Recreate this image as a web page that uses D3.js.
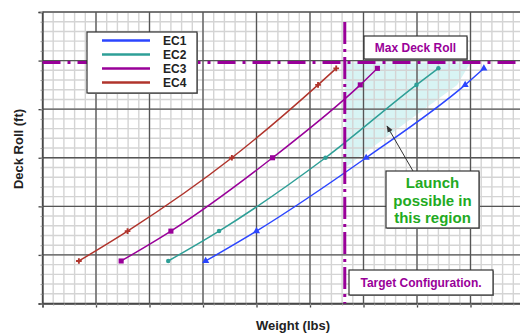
<!DOCTYPE html>
<html><head><meta charset="utf-8">
<script src="https://cdn.jsdelivr.net/npm/d3@7"></script>
<style>html,body{margin:0;padding:0;background:#fff;overflow:hidden}svg{display:block}</style>
</head><body>
<svg id="c" width="520" height="335"></svg>
<script>
// ---- data ----
const seriesNames = ["EC1","EC2","EC3","EC4"];
const deckRoll = [0.875, 1.49, 3.0, 4.5, 4.84];
const ec1Weight = [3.05, 4.00, 6.05, 7.90, 8.25];
const ec2Weight = [2.35, 3.30, 5.29, 6.99, 7.40];
const ec3Weight = [1.47, 2.40, 4.30, 5.94, 6.26];
const ec4Weight = [0.68, 1.59, 3.54, 5.15, 5.49];
const maxDeckRoll = 4.96;
const targetWeight = 5.65;
const regionWeight = [5.65, 8.0, 7.75, 5.9, 5.65];
const regionRoll   = [4.96, 4.96, 4.5, 3.0, 2.79];
const xMajorTicks = [0,1,2,3,4,5,6,7,8,9];
const yMajorTicks = [0,1,2,3,4,5,6];

const colors = ["#2b45ff","#2e9f97","#990099","#b0342c"];
const svg = d3.select("#c");
const x = d3.scaleLinear().domain([0,9]).range([42.5,524]);
const y = d3.scaleLinear().domain([0,6]).range([303.5,12]);

// shaded launch region
svg.append("path")
  .attr("d", d3.line().x(d=>x(d[0])).y(d=>y(d[1]))(regionWeight.map((w,i)=>[w,regionRoll[i]])) + "Z")
  .attr("fill","#d8f4f4");

// minor grid
const xMinor = d3.range(0,9.001,0.2), yMinor = d3.range(0,6.001,0.2);
const g = svg.append("g");
g.selectAll(".vm").data(xMinor).join("line")
  .attr("x1",d=>x(d)).attr("x2",d=>x(d)).attr("y1",y(6)).attr("y2",y(0))
  .attr("stroke","#d4d4d4").attr("stroke-width",1.4);
g.selectAll(".hm").data(yMinor).join("line")
  .attr("y1",d=>y(d)).attr("y2",d=>y(d)).attr("x1",x(0)).attr("x2",x(9))
  .attr("stroke","#d4d4d4").attr("stroke-width",1.4);
// major grid
g.selectAll(".vM").data(xMajorTicks).join("line")
  .attr("x1",d=>x(d)).attr("x2",d=>x(d)).attr("y1",y(6)).attr("y2",y(0))
  .attr("stroke","#555").attr("stroke-width",1.3);
g.selectAll(".hM").data(yMajorTicks).join("line")
  .attr("y1",d=>y(d)).attr("y2",d=>y(d)).attr("x1",x(0)).attr("x2",x(9))
  .attr("stroke","#555").attr("stroke-width",1.3);

// axes (ticks only, no labels)
svg.append("g").attr("transform",`translate(0,${y(0)})`)
  .call(d3.axisBottom(x).tickValues(xMajorTicks).tickSize(4).tickFormat(""))
  .call(a=>a.select(".domain").attr("stroke","#444").attr("stroke-width",1.3))
  .call(a=>a.selectAll(".tick line").attr("stroke","#444").attr("stroke-width",1.3));
svg.append("g").attr("transform",`translate(0,${y(0)})`)
  .call(d3.axisBottom(x).tickValues(xMinor).tickSize(2).tickFormat(""))
  .call(a=>a.select(".domain").remove())
  .call(a=>a.selectAll(".tick line").attr("stroke","#999"));
svg.append("g").attr("transform",`translate(${x(0)},0)`)
  .call(d3.axisLeft(y).tickValues(yMajorTicks).tickSize(4).tickFormat(""))
  .call(a=>a.select(".domain").attr("stroke","#444").attr("stroke-width",1.3))
  .call(a=>a.selectAll(".tick line").attr("stroke","#444").attr("stroke-width",1.3));
svg.append("g").attr("transform",`translate(${x(0)},0)`)
  .call(d3.axisLeft(y).tickValues(yMinor).tickSize(2).tickFormat(""))
  .call(a=>a.select(".domain").remove())
  .call(a=>a.selectAll(".tick line").attr("stroke","#999"));

// series
const allW = [ec1Weight, ec2Weight, ec3Weight, ec4Weight];
const line = d3.line().x(d=>x(d[0])).y(d=>y(d[1])).curve(d3.curveMonotoneX);
const symbols = [d3.symbolTriangle, d3.symbolCircle, d3.symbolSquare, d3.symbolCross];
const symSizes = [22, 16, 26, 18];
allW.forEach((ws,i)=>{
  const pts = ws.map((w,j)=>[w,deckRoll[j]]);
  svg.append("path").attr("d",line(pts)).attr("fill","none")
    .attr("stroke",colors[i]).attr("stroke-width",1.5);
  svg.append("g").selectAll("path").data(pts).join("path")
    .attr("transform",d=>`translate(${x(d[0])},${y(d[1])})`)
    .attr("d",d3.symbol().type(symbols[i]).size(symSizes[i]))
    .attr("fill",colors[i]);
});

// reference lines
const purple = "#990099";
svg.append("line").attr("x1",x(0)).attr("x2",520).attr("y1",y(maxDeckRoll)).attr("y2",y(maxDeckRoll))
  .attr("stroke",purple).attr("stroke-width",3).attr("stroke-dasharray","18 7 3 7");
svg.append("line").attr("x1",x(targetWeight)).attr("x2",x(targetWeight)).attr("y1",22).attr("y2",y(0))
  .attr("stroke",purple).attr("stroke-width",3).attr("stroke-dasharray","22 5 3 5");

// boxes
function box(x0,y0,w,h){
  svg.append("rect").attr("x",x0+1).attr("y",y0+1).attr("width",w).attr("height",h).attr("fill","#999");
  svg.append("rect").attr("x",x0).attr("y",y0).attr("width",w).attr("height",h)
    .attr("fill","#fff").attr("stroke","#333").attr("stroke-width",1.2);
}
const font = "Arial, 'Liberation Sans', sans-serif";

// legend
box(87,32,110,61);
seriesNames.forEach((n,i)=>{
  const yy = 40.5 + i*14;
  svg.append("line").attr("x1",102).attr("x2",150).attr("y1",yy).attr("y2",yy)
    .attr("stroke",colors[i]).attr("stroke-width",2.4);
  svg.append("text").attr("x",163).attr("y",yy+4.5).text(n)
    .attr("font-family",font).attr("font-weight","bold").attr("font-size",12).attr("fill","#222");
});

// Max Deck Roll
box(364,36,103,23);
svg.append("text").attr("x",415.5).attr("y",52).attr("text-anchor","middle").text("Max Deck Roll")
  .attr("font-family",font).attr("font-weight","bold").attr("font-size",12).attr("fill",purple);

// arrow
svg.append("defs").append("marker").attr("id","ah").attr("viewBox","0 0 10 10")
  .attr("refX",9).attr("refY",5).attr("markerWidth",7).attr("markerHeight",7).attr("orient","auto")
  .append("path").attr("d","M0,1 L10,5 L0,9 Z").attr("fill","#333");
svg.append("line").attr("x1",413).attr("y1",171).attr("x2",387).attr("y2",126)
  .attr("stroke","#333").attr("stroke-width",1).attr("marker-end","url(#ah)");

// Launch box
box(386,171,93,57);
["Launch","possible in","this region"].forEach((t,i)=>{
  svg.append("text").attr("x",432.5).attr("y",188+i*17.5).attr("text-anchor","middle").text(t)
    .attr("font-family",font).attr("font-weight","bold").attr("font-size",15).attr("fill","#22aa22");
});

// Target configuration box
box(349,270,144,25);
svg.append("text").attr("x",421).attr("y",286.5).attr("text-anchor","middle").text("Target Configuration.")
  .attr("font-family",font).attr("font-weight","bold").attr("font-size",12).attr("fill",purple);

// axis titles
svg.append("text").attr("x",293).attr("y",330).attr("text-anchor","middle").text("Weight (lbs)")
  .attr("font-family",font).attr("font-weight","bold").attr("font-size",13).attr("fill","#222");
svg.append("text").attr("transform","translate(23,149) rotate(-90)").attr("text-anchor","middle").text("Deck Roll (ft)")
  .attr("font-family",font).attr("font-weight","bold").attr("font-size",13).attr("fill","#222");
</script>
</body></html>
